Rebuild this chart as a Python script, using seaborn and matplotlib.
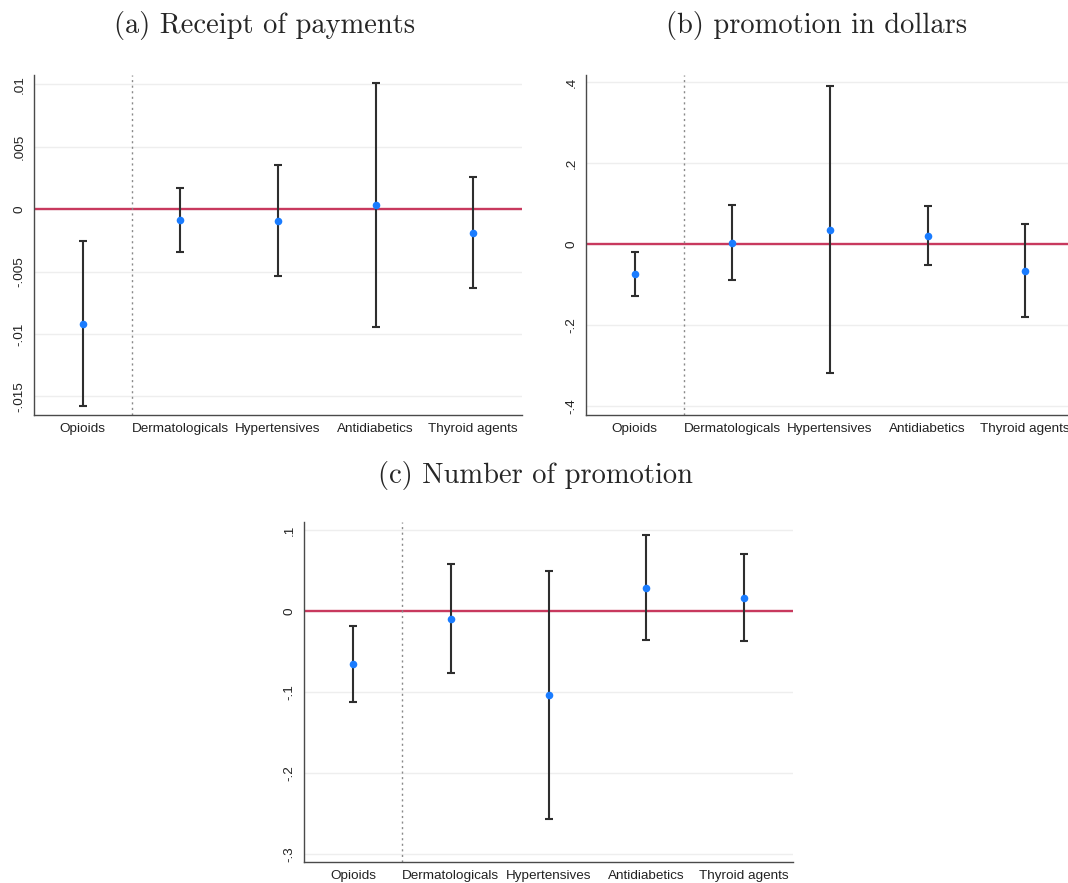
"""
plot.py
Coefficient plots (point estimate + CI) for three outcomes across drug classes.
"""

import matplotlib
matplotlib.use("Agg")
import matplotlib.pyplot as plt
import numpy as np
import pandas as pd
import seaborn as sns

categories = ["Opioids", "Dermatologicals", "Hypertensives", "Antidiabetics", "Thyroid agents"]

# (a) Receipt of payments
pay_est = [-0.00917, -0.00088, -0.00096, 0.00032, -0.0019]
pay_lo = [-0.0158, -0.0034, -0.00537, -0.00944, -0.00634]
pay_hi = [-0.00257, 0.00168, 0.0035, 0.01013, 0.00254]
pay_ticks = [-0.015, -0.01, -0.005, 0, 0.005, 0.01]

# (b) promotion in dollars
usd_est = [-0.074, 0.004, 0.035, 0.021, -0.066]
usd_lo = [-0.1276, -0.088, -0.318, -0.051, -0.180]
usd_hi = [-0.0198, 0.097, 0.392, 0.095, 0.050]
usd_ticks = [-0.4, -0.2, 0, 0.2, 0.4]

# (c) Number of promotion
num_est = [-0.0656, -0.0095, -0.1035, 0.029, 0.0165]
num_lo = [-0.112, -0.077, -0.2565, -0.036, -0.0375]
num_hi = [-0.019, 0.058, 0.050, 0.0936, 0.071]
num_ticks = [-0.3, -0.2, -0.1, 0, 0.1]

FIG_W, FIG_H = 1068, 883
TICK_FONT = ["Liberation Sans", "DejaVu Sans"]
SPINE = "#4a4a4a"


def stata_label(v):
    """Stata style tick label: drop the leading zero (.01, -.005)."""
    if v == 0:
        return "0"
    s = f"{v:g}"
    return s.replace("0.", ".")


def px_axes(fig, left, top, right, bottom):
    return fig.add_axes([left / FIG_W, 1 - bottom / FIG_H,
                         (right - left) / FIG_W, (bottom - top) / FIG_H])


def coef_plot(ax, est, lo, hi, ticks, ylim):
    df = pd.DataFrame({"cat": categories, "x": np.arange(1, len(categories) + 1),
                       "est": est, "lo": lo, "hi": hi})

    for t in ticks:
        ax.axhline(t, color="#eeeeee", lw=1.0, zorder=0)
    ax.axhline(0, color="#c8395e", lw=1.7, zorder=1)
    ax.axvline(1.5, color="#8a8a8a", lw=1.0, ls=(0, (1.5, 2.5)), zorder=1)

    ax.errorbar(df["x"], df["est"],
                yerr=[df["est"] - df["lo"], df["hi"] - df["est"]],
                fmt="none", ecolor="#2e2e2e", elinewidth=1.5,
                capsize=3, capthick=1.5, zorder=2)
    sns.scatterplot(data=df, x="x", y="est", ax=ax, color="#1a7cff",
                    s=30, linewidth=0, zorder=3, legend=False)

    ax.set_xlim(0.5, 5.5)
    ax.set_ylim(*ylim)
    ax.set_xticks(df["x"], categories, fontsize=9.7, family=TICK_FONT)
    ax.set_yticks(ticks, [stata_label(t) for t in ticks], fontsize=9.7,
                  family=TICK_FONT, rotation=90, va="center")
    ax.set_xlabel("")
    ax.set_ylabel("")
    ax.tick_params(axis="both", direction="out", length=4, width=1,
                   color=SPINE, labelcolor="#222222", pad=2)
    sns.despine(ax=ax)
    for side in ("left", "bottom"):
        ax.spines[side].set_color(SPINE)
        ax.spines[side].set_linewidth(1.0)


sns.set_style("white")

fig = plt.figure(figsize=(FIG_W / 100, FIG_H / 100), dpi=100)

ax_a = px_axes(fig, 34, 75, 522, 415)
coef_plot(ax_a, pay_est, pay_lo, pay_hi, pay_ticks, (-0.0165, 0.01075))

ax_b = px_axes(fig, 586, 75, 1074, 415)
coef_plot(ax_b, usd_est, usd_lo, usd_hi, usd_ticks, (-0.421, 0.418))

ax_c = px_axes(fig, 304, 522, 793, 862)
coef_plot(ax_c, num_est, num_lo, num_hi, num_ticks, (-0.310, 0.110))

title_kw = dict(fontsize=20.5, family="cmr10", ha="center", va="center")
fig.text(265 / FIG_W, 1 - 25 / FIG_H, "(a) Receipt of payments", **title_kw)
fig.text(817 / FIG_W, 1 - 25 / FIG_H, "(b) promotion in dollars", **title_kw)
fig.text(535 / FIG_W, 1 - 476 / FIG_H, "(c) Number of promotion", **title_kw)

fig.savefig("out.png", dpi=100)
